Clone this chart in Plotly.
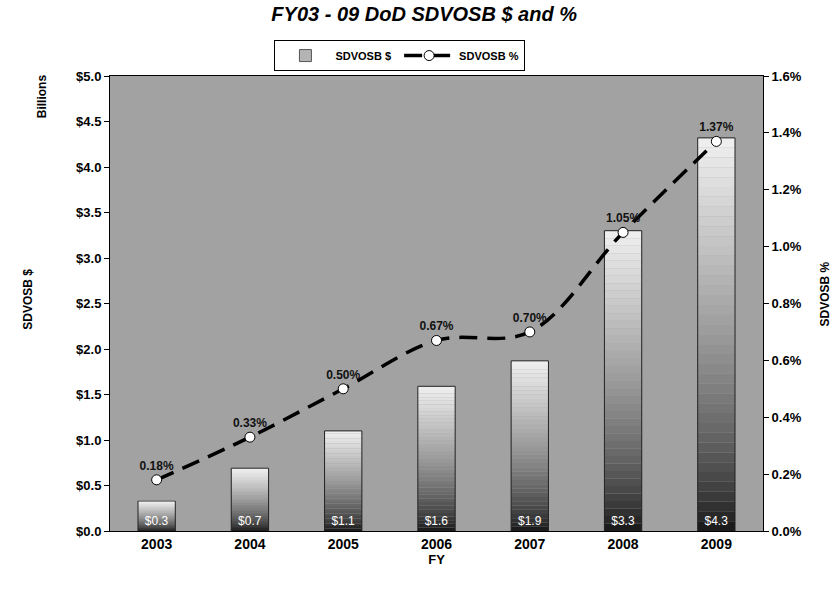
import plotly.graph_objects as go

years = ["2003", "2004", "2005", "2006", "2007", "2008", "2009"]
dollars = [0.33, 0.69, 1.10, 1.59, 1.87, 3.30, 4.32]   # $ billions
pct = [0.18, 0.33, 0.50, 0.67, 0.70, 1.05, 1.37]       # percent

FONT = "Liberation Sans"
N_STEPS = 40

fig = go.Figure()

# gradient bars: stacked slices, light at top -> dark at bottom
for k in range(N_STEPS):
    t = (k + 0.5) / N_STEPS  # 0 bottom .. 1 top
    g = int(18 + (240 - 18) * (t ** 0.7))
    col = f"rgb({g},{g},{g})"
    fig.add_trace(go.Bar(
        x=years, y=[v / N_STEPS for v in dollars],
        base=[v * k / N_STEPS for v in dollars],
        marker=dict(color=col, line=dict(width=0)),
        showlegend=False, hoverinfo="skip", yaxis="y",
    ))

# outline + value labels
fig.add_trace(go.Bar(
    x=years, y=dollars, name="SDVOSB $",
    marker=dict(color="rgba(0,0,0,0)", line=dict(color="#222", width=1)),
    text=[f"${v:.1f}" for v in dollars], textposition="inside",
    insidetextanchor="start", textangle=0, constraintext="none",
    textfont=dict(family=FONT, size=12, color="white"),
    showlegend=False, yaxis="y", hoverinfo="skip",
))
# legend proxy for bars
fig.add_trace(go.Bar(
    x=[None], y=[None], name="SDVOSB $ ",
    marker=dict(color="#b4b4b4", line=dict(color="#555", width=1)),
    showlegend=True,
))

fig.add_trace(go.Scatter(
    x=years, y=pct, name="SDVOSB %", yaxis="y2",
    mode="lines+markers+text",
    line=dict(color="black", width=3.5, dash="18px,10px", shape="spline", smoothing=1),
    marker=dict(size=10, color="white", line=dict(color="black", width=1)),
    text=[f"{v:.2f}%" for v in pct], textposition="top center",
    textfont=dict(family=FONT, size=12, color="#111", weight="bold"),
))

fig.update_layout(
    width=835, height=616,
    margin=dict(l=110, r=72, t=76, b=85),
    paper_bgcolor="white", plot_bgcolor="#a2a2a2",
    barmode="overlay", bargap=0.6,
    font=dict(family=FONT, color="black"),
    title=dict(text="FY03 - 09 DoD SDVOSB $ and %", x=0.508, y=0.977,
               xanchor="center", yanchor="middle",
               font=dict(family=FONT, size=20, weight="bold", style="italic")),
    legend=dict(orientation="h", x=0.444, xanchor="center", y=1.079, yanchor="top",
                bordercolor="black", borderwidth=1, bgcolor="white",
                font=dict(family=FONT, size=11, weight="bold"),
                itemwidth=50, tracegroupgap=0),
    xaxis=dict(showline=True, linecolor="black", mirror=True, ticks="",
               tickfont=dict(family=FONT, size=14, weight="bold"),
               title=dict(text="FY", font=dict(family=FONT, size=13, weight="bold"), standoff=4)),
    yaxis=dict(range=[0, 5], dtick=0.5, tickprefix="$", tickformat=".1f",
               showgrid=False, zeroline=False, showline=True, linecolor="black",
               ticks="outside", ticklen=5, tickcolor="black",
               tickfont=dict(family=FONT, size=13, weight="bold")),
    yaxis2=dict(range=[0, 1.6], dtick=0.2, ticksuffix="%", tickformat=".1f",
                overlaying="y", side="right",
                showgrid=False, zeroline=False, showline=True, linecolor="black",
                ticks="outside", ticklen=5, tickcolor="black",
                tickfont=dict(family=FONT, size=13, weight="bold")),
    annotations=[
        dict(text="SDVOSB $", xref="paper", yref="paper", x=-0.126, y=0.51,
             xanchor="center", yanchor="middle",
             textangle=-90, showarrow=False, font=dict(family=FONT, size=12, weight="bold")),
        dict(text="Billions", xref="paper", yref="paper", x=-0.103, y=0.955,
             xanchor="center", yanchor="middle",
             textangle=-90, showarrow=False, font=dict(family=FONT, size=12, weight="bold")),
        dict(text="SDVOSB %", xref="paper", yref="paper", x=1.095, y=0.52,
             xanchor="center", yanchor="middle",
             textangle=-90, showarrow=False, font=dict(family=FONT, size=12, weight="bold")),
    ],
)

fig.write_html("out.html")
